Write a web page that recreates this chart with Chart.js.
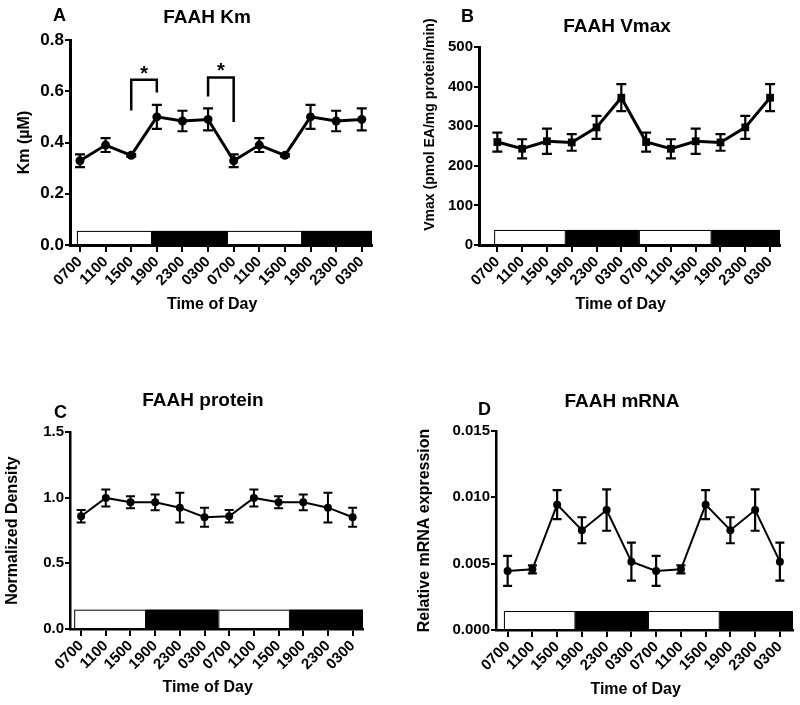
<!DOCTYPE html>
<html><head><meta charset="utf-8">
<script src="https://cdn.jsdelivr.net/npm/chart.js@4.4.1/dist/chart.umd.min.js"></script>
<style>
html,body{margin:0;padding:0;background:#fff;}
#wrap{position:relative;width:800px;height:705px;overflow:hidden;background:#fff;}
canvas{position:absolute;}
</style></head><body>
<div id="wrap">
<canvas id="cA" width="400" height="320" style="left:0;top:0;width:400px;height:320px"></canvas>
<canvas id="cB" width="400" height="320" style="left:400px;top:0;width:400px;height:320px"></canvas>
<canvas id="cC" width="400" height="375" style="left:0;top:330px;width:400px;height:375px"></canvas>
<canvas id="cD" width="400" height="375" style="left:400px;top:330px;width:400px;height:375px"></canvas>
</div>
<script>
// ---- data ----
const timeLabels = ['0700','1100','1500','1900','2300','0300','0700','1100','1500','1900','2300','0300'];

const kmValues = [0.329, 0.39, 0.35, 0.50, 0.484, 0.49, 0.329, 0.39, 0.35, 0.50, 0.484, 0.49];
const kmErrors = [0.025, 0.027, 0.005, 0.047, 0.04, 0.043, 0.025, 0.027, 0.005, 0.047, 0.04, 0.043];

const vmaxValues = [260, 243, 262, 259, 297, 372, 260, 243, 262, 259, 297, 372];
const vmaxErrors = [24, 24, 32, 21, 29, 34, 24, 24, 32, 21, 29, 34];

const proteinValues = [0.858, 0.998, 0.965, 0.965, 0.924, 0.851, 0.858, 0.998, 0.965, 0.965, 0.924, 0.851];
const proteinErrors = [0.048, 0.065, 0.045, 0.06, 0.114, 0.072, 0.048, 0.065, 0.045, 0.06, 0.114, 0.072];

const mrnaValues = [0.00445, 0.00457, 0.00945, 0.00752, 0.00904, 0.00515, 0.00445, 0.00457, 0.00945, 0.00752, 0.00904, 0.00515];
const mrnaErrors = [0.00113, 0.0003, 0.0011, 0.00098, 0.00156, 0.00143, 0.00113, 0.0003, 0.0011, 0.00098, 0.00156, 0.00143];

// significance brackets for Km panel: [fromIndex, toIndex, leftBottom, top, rightBottom]
const kmBrackets = [[2, 3, 0.525, 0.645, 0.595], [5, 6, 0.58, 0.654, 0.48]];
const kmStars = [[2.5, 0.69], [5.5, 0.70]];

// light / dark phase bar (white = light, black = dark)
const phaseFills = ['#ffffff', '#000000', '#ffffff', '#000000'];

const FONT = "'Liberation Sans', Arial, Helvetica, sans-serif";

const decor = {
  id: 'decor',
  beforeDraw(chart, args, o) {
    const {ctx} = chart; const x = chart.scales.x, y = chart.scales.y;
    const yb = y.getPixelForValue(0), yt = y.getPixelForValue(o.phaseHeight);
    ctx.save();
    for (let i = 0; i < o.phaseBounds.length; i++) {
      const x0 = x.getPixelForValue(o.phaseBounds[i]);
      const x1 = i + 1 < o.phaseBounds.length ? x.getPixelForValue(o.phaseBounds[i + 1]) : x.right;
      ctx.fillStyle = phaseFills[i];
      ctx.fillRect(x0, yt, x1 - x0, yb - yt);
      ctx.strokeStyle = '#000'; ctx.lineWidth = 1;
      ctx.strokeRect(x0 + 0.5, yt + 0.5, x1 - x0 - 1, yb - yt - 1);
    }
    ctx.restore();
  },
  afterDatasetsDraw(chart, args, o) {
    const {ctx} = chart; const x = chart.scales.x, y = chart.scales.y;
    ctx.save();
    ctx.strokeStyle = '#000';
    chart.data.datasets.forEach(ds => {
      ctx.lineWidth = o.errWidth;
      ds.data.forEach((p, i) => {
        const e = ds.errors[i];
        const px = x.getPixelForValue(p.x);
        const t = y.getPixelForValue(p.y + e), b = y.getPixelForValue(p.y - e);
        const c = o.capHalf;
        ctx.beginPath();
        ctx.moveTo(px, t); ctx.lineTo(px, b);
        ctx.moveTo(px - c, t); ctx.lineTo(px + c, t);
        ctx.moveTo(px - c, b); ctx.lineTo(px + c, b);
        ctx.stroke();
      });
    });
    if (o.brackets) {
      ctx.lineWidth = 2.5; ctx.lineJoin = 'miter';
      o.brackets.forEach(br => {
        const xa = x.getPixelForValue(br[0]), xb = x.getPixelForValue(br[1]);
        ctx.beginPath();
        ctx.moveTo(xa, y.getPixelForValue(br[2]));
        ctx.lineTo(xa, y.getPixelForValue(br[3]));
        ctx.lineTo(xb, y.getPixelForValue(br[3]));
        ctx.lineTo(xb, y.getPixelForValue(br[4]));
        ctx.stroke();
      });
      ctx.fillStyle = '#000';
      ctx.font = 'bold 20px ' + FONT;
      ctx.textAlign = 'center'; ctx.textBaseline = 'alphabetic';
      o.stars.forEach(s => {
        ctx.fillText('*', x.getPixelForValue(s[0]), y.getPixelForValue(s[1]) + 0.57 * 20);
      });
    }
    ctx.restore();
  },
  afterDraw(chart, args, o) {
    const {ctx} = chart;
    ctx.save();
    ctx.fillStyle = '#000'; ctx.textBaseline = 'alphabetic';
    ctx.font = 'bold 19px ' + FONT; ctx.textAlign = 'center';
    ctx.fillText(o.title, o.titleX, o.titleY);
    ctx.font = 'bold 18px ' + FONT; ctx.textAlign = 'left';
    ctx.fillText(o.letter, o.letterX, o.letterY);
    ctx.restore();
  }
};

function makeChart(id, c) {
  const canvas = document.getElementById(id);
  const W = canvas.width, H = canvas.height;
  return new Chart(canvas, {
    type: 'line',
    data: {
      datasets: [{
        data: c.values.map((v, i) => ({x: i, y: v})),
        errors: c.errors,
        borderColor: '#000', backgroundColor: '#000',
        borderWidth: c.lineWidth,
        pointStyle: c.pointStyle, pointRadius: c.pointRadius, pointBorderWidth: 0,
        pointBackgroundColor: '#000',
        tension: 0, clip: false
      }]
    },
    options: {
      responsive: false, animation: false, devicePixelRatio: 1,
      layout: {padding: {left: 0, right: W - c.area.right, top: c.area.top, bottom: 0}},
      plugins: {
        legend: {display: false}, tooltip: {enabled: false},
        decor: Object.assign({errWidth: c.errWidth, capHalf: c.capHalf, phaseBounds: c.phaseBounds, phaseHeight: c.phaseHeight}, c.text, {brackets: c.brackets, stars: c.stars})
      },
      scales: {
        x: {
          type: 'linear', min: c.xMin, max: c.xMax,
          afterBuildTicks: s => { s.ticks = timeLabels.map((_, i) => ({value: i})); },
          afterFit: s => { s.height = H - c.area.bottom; },
          grid: {display: true, drawOnChartArea: false, drawTicks: true, tickLength: 7, color: '#000', lineWidth: 2},
          border: {display: true, color: '#000', width: c.axisWidth},
          ticks: {
            autoSkip: false, minRotation: 45, maxRotation: 45, padding: 1,
            color: '#000', font: {family: FONT, size: 15, weight: 'bold'},
            callback: v => timeLabels[v]
          },
          title: {display: true, text: 'Time of Day    ', color: '#000', font: {family: FONT, size: 16, weight: 'bold'}, padding: {top: 0, bottom: c.xTitlePad}}
        },
        y: {
          min: 0, max: c.yMax,
          afterFit: s => { s.width = c.area.left; },
          grid: {display: true, drawOnChartArea: false, drawTicks: true, tickLength: 5, color: '#000', lineWidth: 2},
          border: {display: true, color: '#000', width: c.axisWidth},
          ticks: {
            stepSize: c.yStep, padding: 1, color: '#000',
            font: {family: FONT, size: c.yTickSize, weight: 'bold'},
            callback: v => Number(v).toFixed(c.yDecimals)
          },
          title: {display: true, text: c.yTitle, color: '#000', font: {family: FONT, size: c.yTitleSize, weight: 'bold'}, padding: {top: c.yTitlePad, bottom: 0}}
        }
      }
    },
    plugins: [decor]
  });
}

makeChart('cA', {
  values: kmValues, errors: kmErrors,
  area: {left: 70, right: 372, top: 40, bottom: 245},
  xMin: -0.39, xMax: 11.4, yMax: 0.8, yStep: 0.2, yDecimals: 1, yTickSize: 17,
  yTitle: 'Km (\u00B5M)', yTitleSize: 16, yTitlePad: 15,
  xTitlePad: 6,
  lineWidth: 3, pointStyle: 'circle', pointRadius: 4.5, errWidth: 2.2, capHalf: 5, axisWidth: 3,
  phaseBounds: [-0.12, 2.81, 5.74, 8.67], phaseHeight: 0.055,
  brackets: kmBrackets, stars: kmStars,
  text: {title: 'FAAH Km', titleX: 207, titleY: 23, letter: 'A', letterX: 53, letterY: 21}
});

makeChart('cB', {
  values: vmaxValues, errors: vmaxErrors,
  area: {left: 79, right: 380, top: 47, bottom: 245},
  xMin: -0.74, xMax: 11.4, yMax: 500, yStep: 100, yDecimals: 0, yTickSize: 15,
  yTitle: '           Vmax (pmol EA/mg protein/min)', yTitleSize: 14, yTitlePad: 22,
  xTitlePad: 6,
  lineWidth: 3, pointStyle: 'rect', pointRadius: 5.5, errWidth: 2.2, capHalf: 5, axisWidth: 3,
  phaseBounds: [-0.13, 2.76, 5.71, 8.64], phaseHeight: 38,
  text: {title: 'FAAH Vmax', titleX: 217, titleY: 32, letter: 'B', letterX: 61, letterY: 22}
});

makeChart('cC', {
  values: proteinValues, errors: proteinErrors,
  area: {left: 70, right: 363, top: 102, bottom: 299},
  xMin: -0.45, xMax: 11.42, yMax: 1.5, yStep: 0.5, yDecimals: 1, yTickSize: 15,
  yTitle: 'Normalized Density', yTitleSize: 16, yTitlePad: 3,
  xTitlePad: 8,
  lineWidth: 2, pointStyle: 'circle', pointRadius: 4, errWidth: 2, capHalf: 4.5, axisWidth: 2.5,
  phaseBounds: [-0.28, 2.63, 5.56, 8.46], phaseHeight: 0.147,
  text: {title: 'FAAH protein', titleX: 203, titleY: 76, letter: 'C', letterX: 54, letterY: 88}
});

makeChart('cD', {
  values: mrnaValues, errors: mrnaErrors,
  area: {left: 96, right: 393, top: 101, bottom: 300},
  xMin: -0.47, xMax: 11.53, yMax: 0.015, yStep: 0.005, yDecimals: 3, yTickSize: 15,
  yTitle: 'Relative mRNA expression', yTitleSize: 16, yTitlePad: 15,
  xTitlePad: 6,
  lineWidth: 2, pointStyle: 'circle', pointRadius: 4, errWidth: 2.2, capHalf: 4.5, axisWidth: 2.5,
  phaseBounds: [-0.15, 2.74, 5.67, 8.57], phaseHeight: 0.00143,
  text: {title: 'FAAH mRNA', titleX: 222, titleY: 77, letter: 'D', letterX: 78, letterY: 85}
});
</script>
</body></html>
